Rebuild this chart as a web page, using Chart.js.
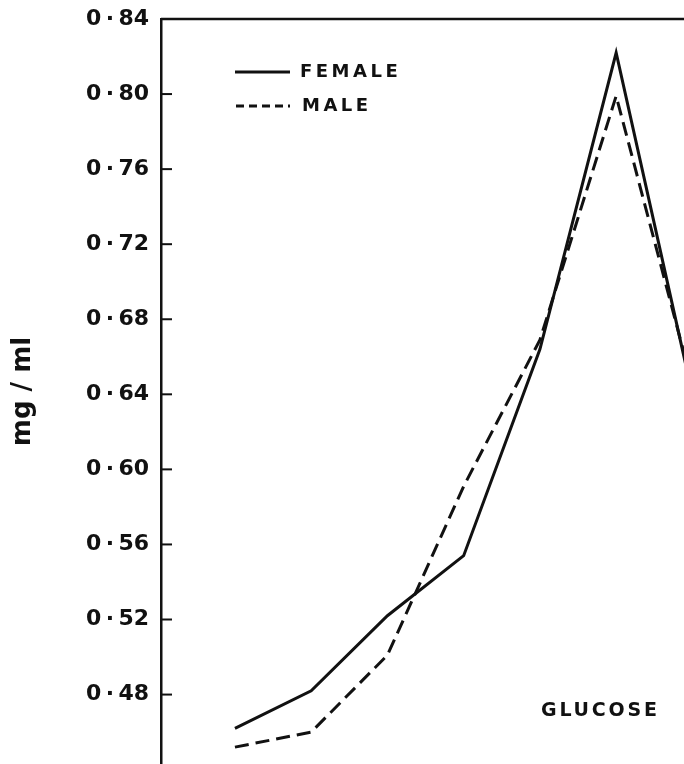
<!DOCTYPE html>
<html>
<head>
<meta charset="utf-8">
<script src="https://cdn.jsdelivr.net/npm/chart.js@4.4.1/dist/chart.umd.min.js"></script>
<style>
  html, body { margin: 0; padding: 0; background: #fff; }
  #wrap { width: 684px; height: 764px; position: relative; }
</style>
</head>
<body>
<div id="wrap"><canvas id="grafico"></canvas></div>
<script>
// Puntos de muestreo (índice a lo largo del eje x, sin etiquetas en el original)
const indices = [0, 1, 2, 3, 4, 5, 6];
const hembra = [0.462, 0.482, 0.522, 0.554, 0.664, 0.822, 0.640];
const macho = [0.452, 0.460, 0.501, 0.591, 0.669, 0.799, 0.645];
const etiquetasSerie = ["FEMALE", "MALE"];
const tituloEjeY = "mg / ml";
const rotulo = "GLUCOSE";

const FUENTE = "'DejaVu Sans', sans-serif";
const TINTA = "#111";

// Marcas de eje hacia dentro, leyenda y rótulo dibujados sobre el canvas
const decoracion = {
  id: "decoracion",
  afterDraw(chart) {
    const { ctx, chartArea, scales } = chart;
    const y = scales.y;
    ctx.save();
    ctx.strokeStyle = TINTA;
    ctx.lineWidth = 2;
    y.ticks.forEach((t, i) => {
      const py = y.getPixelForTick(i);
      ctx.beginPath();
      ctx.moveTo(chartArea.left, py);
      ctx.lineTo(chartArea.left + 11, py);
      ctx.stroke();
    });
    // borde superior
    ctx.lineWidth = 2.5;
    ctx.beginPath();
    ctx.moveTo(chartArea.left, chartArea.top);
    ctx.lineTo(chartArea.right, chartArea.top);
    ctx.stroke();

    // leyenda
    ctx.lineWidth = 3;
    ctx.beginPath();
    ctx.moveTo(235, 72);
    ctx.lineTo(290, 72);
    ctx.stroke();
    ctx.setLineDash([8, 5]);
    ctx.beginPath();
    ctx.moveTo(236, 106);
    ctx.lineTo(290, 106);
    ctx.stroke();
    ctx.setLineDash([]);

    ctx.fillStyle = TINTA;
    ctx.textBaseline = "middle";
    ctx.textAlign = "left";
    ctx.font = "bold 18px " + FUENTE;
    ctx.letterSpacing = "3.5px";
    ctx.fillText(etiquetasSerie[0], 300, 72);
    ctx.fillText(etiquetasSerie[1], 302, 106);
    ctx.font = "bold 19px " + FUENTE;
    ctx.letterSpacing = "2.8px";
    ctx.fillText(rotulo, 541, 711);
    ctx.restore();
  },
};

const puntos = (serie) => serie.map((v, i) => ({ x: indices[i], y: v }));

new Chart(document.getElementById("grafico"), {
  type: "line",
  data: {
    datasets: [
      {
        label: etiquetasSerie[0],
        data: puntos(hembra),
        borderColor: TINTA,
        borderWidth: 3,
        pointRadius: 0,
        tension: 0,
      },
      {
        label: etiquetasSerie[1],
        data: puntos(macho),
        borderColor: TINTA,
        borderWidth: 3,
        borderDash: [14, 7],
        pointRadius: 0,
        tension: 0,
      },
    ],
  },
  options: {
    responsive: true,
    maintainAspectRatio: false,
    animation: false,
    layout: { padding: { top: 19, right: 0, bottom: 0, left: 8 } },
    plugins: { legend: { display: false }, tooltip: { enabled: false } },
    scales: {
      x: {
        type: "linear",
        display: false,
        min: -0.97,
        max: 5.89,
      },
      y: {
        min: 0.443,
        max: 0.84,
        afterFit: (scale) => {
          scale.width = 153;
          scale.paddingTop = 0;
          scale.paddingBottom = 0;
        },
        border: { display: true, color: TINTA, width: 2.5 },
        grid: { display: true, drawOnChartArea: false, drawTicks: false },
        ticks: {
          stepSize: 0.04,
          includeBounds: false,
          padding: 12,
          color: TINTA,
          font: { family: FUENTE, size: 22, weight: "bold" },
          callback: (v) => v.toFixed(2).replace(".", "\u2009·\u2009"),
        },
        title: {
          display: true,
          text: tituloEjeY,
          color: TINTA,
          padding: { top: 0, bottom: 0 },
          font: { family: FUENTE, size: 26, weight: "bold" },
        },
      },
    },
  },
  plugins: [decoracion],
});
</script>
</body>
</html>
